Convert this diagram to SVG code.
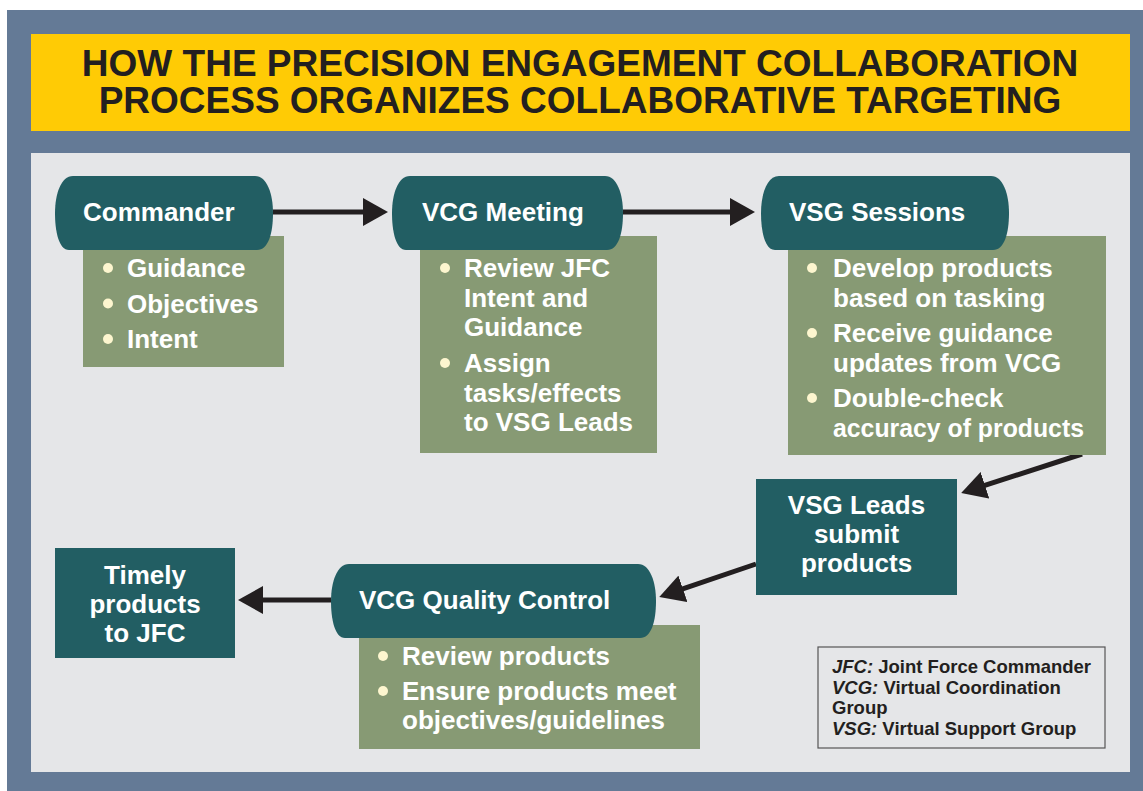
<svg xmlns="http://www.w3.org/2000/svg" width="1143" height="791" viewBox="0 0 1143 791">
<style>
text{font-family:"Liberation Sans",Arial,sans-serif;font-weight:bold}
.title{font-size:37px;fill:#231f20;text-anchor:middle}
.pill{fill:#225e63}
.box{fill:#879a74}
.node{fill:#225e63}
.h{font-size:26px;fill:#ffffff}
.b{font-size:26px;fill:#ffffff}
.c{text-anchor:middle}
.dot{fill:#fdf6cf}
.leg{font-size:18.5px;fill:#231f20}
.conn{stroke:#231f20;stroke-width:5;fill:none;marker-end:url(#ah)}
</style>
<defs>
<marker id="ah" markerUnits="userSpaceOnUse" markerWidth="26" markerHeight="28" refX="1" refY="14" orient="auto">
<path d="M0,0 L25,14 L0,28 z" fill="#231f20"/>
</marker>
</defs>
<rect x="0" y="0" width="1143" height="791" fill="#ffffff"/>
<rect x="7" y="10" width="1136" height="781" fill="#647a96"/>
<g id="title">
<rect x="31" y="34" width="1099" height="97" fill="#ffcb05"/>
<text class="title" x="580" y="76">HOW THE PRECISION ENGAGEMENT COLLABORATION</text>
<text class="title" x="580" y="113">PROCESS ORGANIZES COLLABORATIVE TARGETING</text>
</g>
<rect x="31" y="153" width="1099" height="619" fill="#e5e6e8"/>

<g id="connectors">
<line class="conn" x1="273" y1="212" x2="364" y2="212"/>
<line class="conn" x1="623" y1="212" x2="731" y2="212"/>
<line class="conn" x1="1082" y1="454" x2="984" y2="485.6"/>
<line class="conn" x1="756" y1="564" x2="682" y2="589.2"/>
<line class="conn" x1="331" y1="600" x2="262" y2="600"/>
</g>

<g id="commander">
<rect class="box" x="83" y="236" width="201" height="131"/>
<path class="pill" d="M73,176 H255 C267,176 273,194 273,213 C273,234 268,250 257,250 H69 C59,250 55,232 55,213 C55,194 61,176 73,176 Z"/>
<text class="h" x="83" y="221">Commander</text>
<circle class="dot" cx="108" cy="268" r="5"/>
<text class="b" x="127" y="277">Guidance</text>
<circle class="dot" cx="108" cy="303.5" r="5"/>
<text class="b" x="127" y="312.5">Objectives</text>
<circle class="dot" cx="108" cy="339" r="5"/>
<text class="b" x="127" y="348">Intent</text>
</g>

<g id="vcg-meeting">
<rect class="box" x="420" y="236" width="237" height="217"/>
<path class="pill" d="M410,176 H605 C617,176 623,194 623,213 C623,234 618,250 607,250 H406 C396,250 392,232 392,213 C392,194 398,176 410,176 Z"/>
<text class="h" x="422" y="221">VCG Meeting</text>
<circle class="dot" cx="445" cy="268" r="5"/>
<text class="b" x="464" y="277">Review JFC</text>
<text class="b" x="464" y="306.5">Intent and</text>
<text class="b" x="464" y="336">Guidance</text>
<circle class="dot" cx="445" cy="363" r="5"/>
<text class="b" x="464" y="372">Assign</text>
<text class="b" x="464" y="401.5">tasks/effects</text>
<text class="b" x="464" y="431">to VSG Leads</text>
</g>

<g id="vsg-sessions">
<rect class="box" x="788" y="236" width="318" height="219"/>
<path class="pill" d="M779,176 H991 C1003,176 1009,194 1009,213 C1009,234 1004,250 993,250 H775 C765,250 761,232 761,213 C761,194 767,176 779,176 Z"/>
<text class="h" x="789" y="221">VSG Sessions</text>
<circle class="dot" cx="812" cy="268" r="5"/>
<text class="b" x="833" y="277">Develop products</text>
<text class="b" x="833" y="306.5">based on tasking</text>
<circle class="dot" cx="812" cy="333" r="5"/>
<text class="b" x="833" y="342">Receive guidance</text>
<text class="b" x="833" y="371.5">updates from VCG</text>
<circle class="dot" cx="812" cy="398" r="5"/>
<text class="b" x="833" y="407">Double-check</text>
<text class="b" x="833" y="436.5" textLength="251" lengthAdjust="spacingAndGlyphs">accuracy of products</text>
</g>

<g id="vsg-leads">
<rect class="node" x="756" y="479" width="201" height="116"/>
<text class="b c" x="856.5" y="514">VSG Leads</text>
<text class="b c" x="856.5" y="543">submit</text>
<text class="b c" x="856.5" y="572">products</text>
</g>

<g id="vcg-quality-control">
<rect class="box" x="359" y="625" width="341" height="124"/>
<path class="pill" d="M349,564 H638 C650,564 656,582 656,601 C656,622 651,638 640,638 H345 C335,638 331,620 331,601 C331,582 337,564 349,564 Z"/>
<text class="h" x="359" y="609">VCG Quality Control</text>
<circle class="dot" cx="383" cy="656" r="5"/>
<text class="b" x="402" y="665">Review products</text>
<circle class="dot" cx="383" cy="691" r="5"/>
<text class="b" x="402" y="700">Ensure products meet</text>
<text class="b" x="402" y="729">objectives/guidelines</text>
</g>

<g id="timely-products">
<rect class="node" x="55" y="548" width="180" height="110"/>
<text class="b c" x="145" y="584">Timely</text>
<text class="b c" x="145" y="613">products</text>
<text class="b c" x="145" y="642">to JFC</text>
</g>

<g id="legend">
<rect x="818" y="647" width="287" height="101" fill="none" stroke="#555555" stroke-width="1.2"/>
<text class="leg" x="832" y="673"><tspan font-style="italic">JFC:</tspan> Joint Force Commander</text>
<text class="leg" x="832" y="694"><tspan font-style="italic">VCG:</tspan> Virtual Coordination</text>
<text class="leg" x="832" y="714">Group</text>
<text class="leg" x="832" y="735"><tspan font-style="italic">VSG:</tspan> Virtual Support Group</text>
</g>
</svg>
